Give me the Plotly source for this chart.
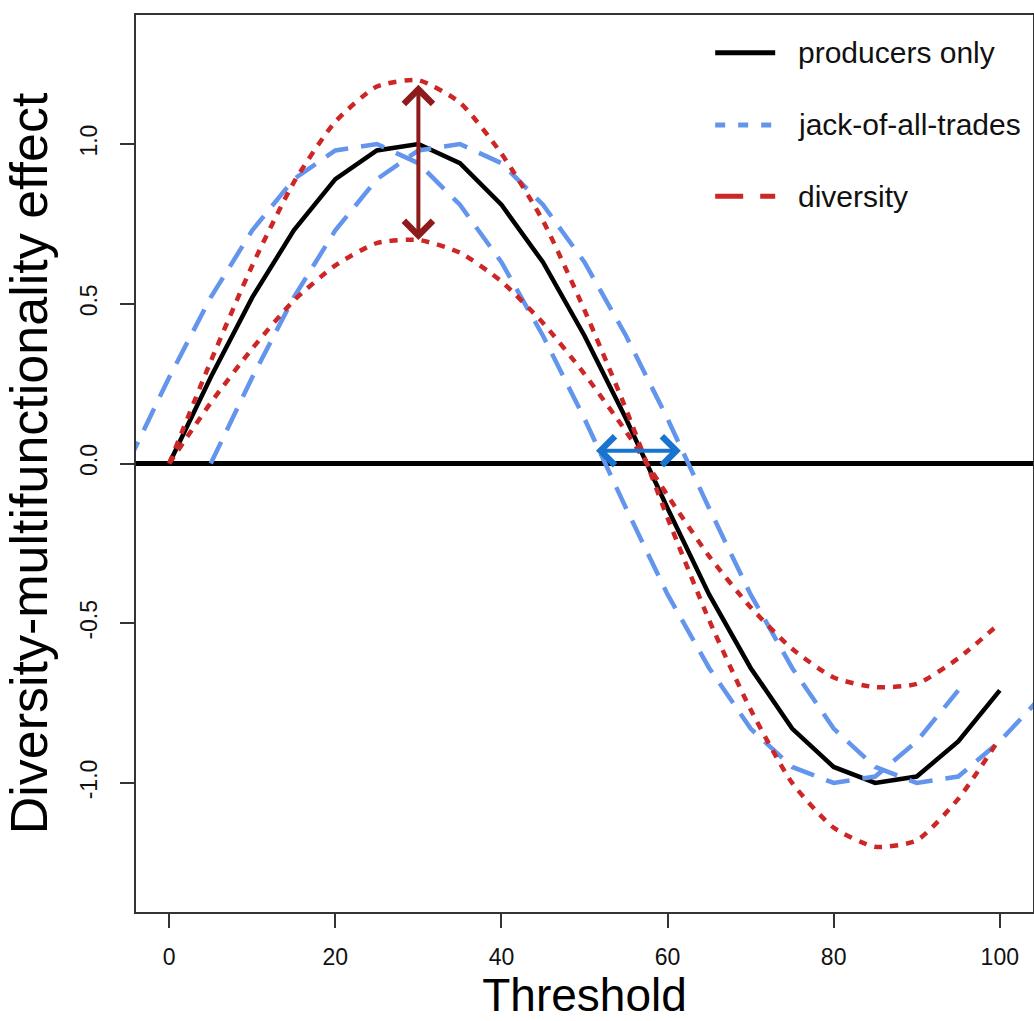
import plotly.graph_objects as go

# ---------------- data ----------------
threshold = [0, 5, 10, 15, 20, 25, 30, 35, 40, 45, 50, 55, 60, 65, 70, 75, 80, 85, 90, 95, 100]
producers_only = [0, 0.27, 0.52, 0.73, 0.89, 0.98, 1.0, 0.94, 0.81, 0.63, 0.40, 0.14,
                  -0.14, -0.41, -0.64, -0.83, -0.95, -1.0, -0.98, -0.87, -0.71]

jack_left_x = [-5, 0, 5, 10, 15, 20, 25, 30, 35, 40, 45, 50, 55, 60, 65, 70, 75, 80, 85, 90, 95]
jack_left_y = [0, 0.27, 0.52, 0.73, 0.89, 0.98, 1.0, 0.94, 0.81, 0.63, 0.40, 0.14,
               -0.14, -0.41, -0.64, -0.83, -0.95, -1.0, -0.98, -0.87, -0.71]
jack_right_x = [5, 10, 15, 20, 25, 30, 35, 40, 45, 50, 55, 60, 65, 70, 75, 80, 85, 90, 95, 100, 105]
jack_right_y = [0, 0.27, 0.52, 0.73, 0.89, 0.98, 1.0, 0.94, 0.81, 0.63, 0.40, 0.14,
                -0.14, -0.41, -0.64, -0.83, -0.95, -1.0, -0.98, -0.87, -0.73]

diversity_high = [0, 0.32, 0.62, 0.88, 1.07, 1.18, 1.2, 1.13, 0.97, 0.76, 0.48, 0.17,
                  -0.17, -0.49, -0.77, -1.0, -1.14, -1.2, -1.18, -1.05, -0.86]
diversity_low = [0, 0.19, 0.36, 0.51, 0.62, 0.69, 0.7, 0.66, 0.57, 0.44, 0.28, 0.10,
                 -0.10, -0.29, -0.45, -0.58, -0.67, -0.7, -0.69, -0.61, -0.50]

x_ticks = [0, 20, 40, 60, 80, 100]
y_ticks = [-1.0, -0.5, 0.0, 0.5, 1.0]
y_tick_text = ["-1.0", "-0.5", "0.0", "0.5", "1.0"]

# arrows (annotations)
vert_arrow_x = 30
vert_arrow_y = [0.70, 1.19]
horiz_arrow_x = [51.2, 61.6]
horiz_arrow_y = 0.04

legend_labels = ["producers only", "jack-of-all-trades", "diversity"]

# ---------------- styles ----------------
FONT = "Liberation Sans, Arial, Helvetica, sans-serif"
NARROW = "Liberation Sans Narrow, Arial Narrow, Liberation Sans, sans-serif"
BLACK = "#000000"
BLUE = "#6495ED"
RED = "#CD2626"
DARKRED = "#8E1B1B"
ARROWBLUE = "#1874CD"

fig = go.Figure()

fig.add_trace(go.Scatter(x=threshold, y=producers_only, mode="lines",
                         line=dict(color=BLACK, width=4.5),
                         name=legend_labels[0], showlegend=False))
fig.add_trace(go.Scatter(x=jack_left_x, y=jack_left_y, mode="lines",
                         line=dict(color=BLUE, width=4.5, dash="24px,13px"),
                         name=legend_labels[1], showlegend=False))
fig.add_trace(go.Scatter(x=jack_right_x, y=jack_right_y, mode="lines",
                         line=dict(color=BLUE, width=4.5, dash="24px,13px"),
                         name=legend_labels[1], showlegend=False))
fig.add_trace(go.Scatter(x=threshold, y=diversity_high, mode="lines",
                         line=dict(color=RED, width=4.5, dash="8px,8px", shape="spline", smoothing=0.6),
                         name=legend_labels[2], showlegend=False))
fig.add_trace(go.Scatter(x=threshold, y=diversity_low, mode="lines",
                         line=dict(color=RED, width=4.5, dash="8px,8px", shape="spline", smoothing=0.6),
                         name=legend_labels[2], showlegend=False))

# double-headed arrows
fig.add_annotation(x=vert_arrow_x, y=vert_arrow_y[0], ax=vert_arrow_x, ay=vert_arrow_y[1],
                   xref="x", yref="y", axref="x", ayref="y", text="", showarrow=True,
                   arrowhead=4, startarrowhead=4, arrowside="end+start",
                   arrowwidth=4, arrowsize=1.4, startarrowsize=1.4,
                   arrowcolor=DARKRED, standoff=0, startstandoff=0)
fig.add_annotation(x=horiz_arrow_x[1], y=horiz_arrow_y, ax=horiz_arrow_x[0], ay=horiz_arrow_y,
                   xref="x", yref="y", axref="x", ayref="y", text="", showarrow=True,
                   arrowhead=4, startarrowhead=4, arrowside="end+start",
                   arrowwidth=4, arrowsize=1.4, startarrowsize=1.4,
                   arrowcolor=ARROWBLUE, standoff=0, startstandoff=0)

# manual legend (line samples + labels), positioned in paper coordinates
leg_x0, leg_x1, leg_tx = 0.6457, 0.7126, 0.736
leg_rows = [0.958, 0.8775, 0.798]
leg_styles = [dict(color=BLACK, width=5, dash="solid"),
              dict(color=BLUE, width=5, dash="10px,13px"),
              dict(color=RED, width=5, dash="28px,17px")]
for lab, yy, st in zip(legend_labels, leg_rows, leg_styles):
    fig.add_shape(type="line", xref="paper", yref="paper",
                  x0=leg_x0, x1=leg_x1, y0=yy, y1=yy, line=st)
    fig.add_annotation(xref="paper", yref="paper", x=leg_tx, y=yy, text=lab,
                       showarrow=False, xanchor="left", yanchor="middle",
                       font=dict(family=FONT, size=30, color="#111111"))

axis_common = dict(showline=True, mirror=True, linecolor="#333333", linewidth=1.5,
                   ticks="outside", ticklen=14, tickwidth=1.5, tickcolor="#333333",
                   showgrid=False,
                   tickfont=dict(family=NARROW, size=23, color="#111111"))

fig.update_xaxes(range=[-4, 104], tickvals=x_ticks, zeroline=False,
                 ticklabelstandoff=10,
                 title=dict(text="Threshold", font=dict(family=FONT, size=46, color="#000000"),
                            standoff=6),
                 **axis_common)
fig.update_yaxes(range=[-1.404, 1.404], tickvals=y_ticks, ticktext=y_tick_text,
                 tickangle=-90, ticklabelstandoff=14,
                 zeroline=True, zerolinecolor=BLACK, zerolinewidth=4.5,
                 title=dict(text="Diversity-multifunctionality effect",
                            font=dict(family=FONT, size=52, color="#000000"), standoff=17),
                 **axis_common)

fig.update_layout(width=1034, height=1021,
                  margin=dict(l=136, r=1, t=15, b=109, autoexpand=False),
                  plot_bgcolor="white", paper_bgcolor="white",
                  showlegend=False)

fig.write_html("out.html", config={"displayModeBar": False},
               post_script="document.body.style.margin='0';")
